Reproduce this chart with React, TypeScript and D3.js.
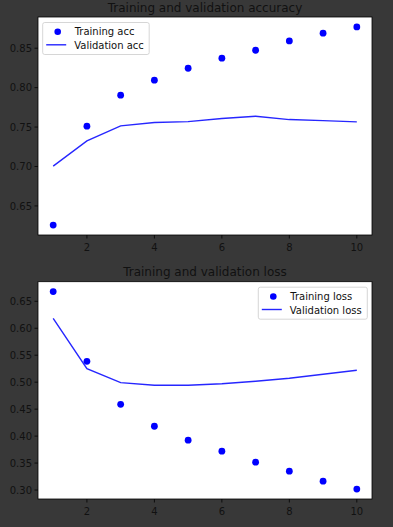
import React from "react";
import * as d3 from "d3";

const epochs = [1, 2, 3, 4, 5, 6, 7, 8, 9, 10];
const trainAcc = [0.6257, 0.7511, 0.7904, 0.8094, 0.8246, 0.8373, 0.8474, 0.8592, 0.869, 0.877];
const valAcc = [0.7004, 0.7325, 0.7515, 0.7557, 0.7569, 0.7608, 0.7638, 0.7595, 0.7582, 0.7566];
const trainLoss = [0.668, 0.5387, 0.459, 0.4183, 0.3924, 0.372, 0.3517, 0.335, 0.3165, 0.3017];
const valLoss = [0.6183, 0.525, 0.4991, 0.4943, 0.4943, 0.4972, 0.5017, 0.5072, 0.5146, 0.522];
const xTicks = [2, 4, 6, 8, 10];
const accTicks = [0.65, 0.7, 0.75, 0.8, 0.85];
const lossTicks = [0.3, 0.35, 0.4, 0.45, 0.5, 0.55, 0.6, 0.65];

const FONT = "DejaVu Sans";
const BLUE = "#0000ff";

type PanelProps = {
  top: number;
  bottom: number;
  title: string;
  train: number[];
  val: number[];
  yTicks: number[];
  trainLabel: string;
  valLabel: string;
  legendRight: boolean;
};

function Panel({ top, bottom, title, train, val, yTicks, trainLabel, valLabel, legendRight }: PanelProps) {
  const left = 38;
  const right = 372;
  const x = d3.scaleLinear().domain([0.55, 10.45]).range([left, right]);
  const all = [...train, ...val];
  const mn = d3.min(all)!;
  const mx = d3.max(all)!;
  const pad = (mx - mn) * 0.05;
  const y = d3.scaleLinear().domain([mn - pad, mx + pad]).range([bottom, top]);
  const line = d3
    .line<number>()
    .x((_, i) => x(epochs[i]))
    .y((d) => y(d));
  const legW = legendRight ? 109 : 106.5;
  const legH = 32;
  const legX = legendRight ? right - 4.7 - legW : left + 4.7;
  const legY = top + 5.5;
  return (
    <g>
      <rect x={left} y={top} width={right - left} height={bottom - top} fill="#ffffff" />
      <text x={(left + right) / 2} y={top - 5.5} textAnchor="middle" fontFamily={FONT} fontSize={12} fill="#111">
        {title}
      </text>
      <path d={line(val) || ""} fill="none" stroke={BLUE} strokeWidth={1.4} opacity={0.85} />
      {train.map((v, i) => (
        <circle key={i} cx={x(epochs[i])} cy={y(v)} r={3.4} fill={BLUE} />
      ))}
      <rect x={left} y={top} width={right - left} height={bottom - top} fill="none" stroke="#000" strokeWidth={0.8} />
      {xTicks.map((t) => (
        <g key={t}>
          <line x1={x(t)} x2={x(t)} y1={bottom} y2={bottom + 3.5} stroke="#000" strokeWidth={0.8} />
          <text x={x(t)} y={bottom + 16} textAnchor="middle" fontFamily={FONT} fontSize={10} fill="#111">
            {t}
          </text>
        </g>
      ))}
      {yTicks.map((t) => (
        <g key={t}>
          <line x1={left - 3.5} x2={left} y1={y(t)} y2={y(t)} stroke="#000" strokeWidth={0.8} />
          <text x={left - 6} y={y(t) + 3.6} textAnchor="end" fontFamily={FONT} fontSize={10} fill="#111">
            {d3.format(".2f")(t)}
          </text>
        </g>
      ))}
      <rect x={legX} y={legY} width={legW} height={legH} rx={2} fill="#fff" stroke="#ccc" strokeWidth={0.8} />
      <circle cx={legX + 15} cy={legY + 9.3} r={3.3} fill={BLUE} />
      <line x1={legX + 3.5} x2={legX + 23.5} y1={legY + 22.3} y2={legY + 22.3} stroke={BLUE} strokeWidth={1.4} opacity={0.85} />
      <text x={legX + 32} y={legY + 12.8} fontFamily={FONT} fontSize={10} fill="#111">
        {trainLabel}
      </text>
      <text x={legX + 31.5} y={legY + 26.3} fontFamily={FONT} fontSize={10} fill="#111">
        {valLabel}
      </text>
    </g>
  );
}

export default function App() {
  return (
    <svg width={393} height={527} style={{ position: "absolute", left: 0, top: 0, display: "block" }}>
      <rect x={0} y={0} width={393} height={527} fill="#383838" />
      <Panel
        top={17}
        bottom={235}
        title="Training and validation accuracy"
        train={trainAcc}
        val={valAcc}
        yTicks={accTicks}
        trainLabel="Training acc"
        valLabel="Validation acc"
        legendRight={false}
      />
      <Panel
        top={281.7}
        bottom={499}
        title="Training and validation loss"
        train={trainLoss}
        val={valLoss}
        yTicks={lossTicks}
        trainLabel="Training loss"
        valLabel="Validation loss"
        legendRight={true}
      />
    </svg>
  );
}
